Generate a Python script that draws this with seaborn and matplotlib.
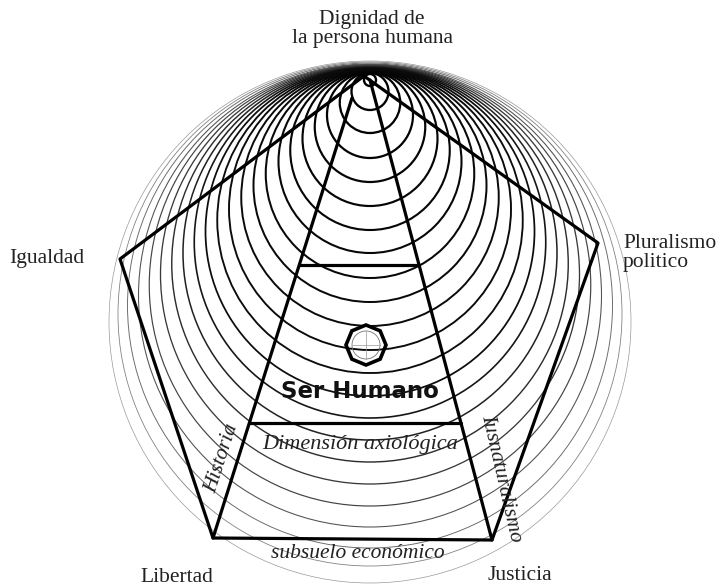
import matplotlib
matplotlib.use("Agg")
import matplotlib.pyplot as plt
from matplotlib.patches import Circle, RegularPolygon
import numpy as np
import pandas as pd
import seaborn as sns

# 同心圆（顶端几乎相切）: 顶部与底部的 y 值（像素坐标）
circle_tops = [74, 73, 72.5, 72, 71.5, 71, 70.5, 70, 69.5, 69, 68.5, 68, 67.5, 67,
               66.5, 66, 65.5, 65, 64.5, 64, 63, 62, 61]
circle_bottoms = [86, 110, 133, 158, 182, 206, 230, 253, 278, 302, 326, 350, 373,
                  396, 418, 440, 462, 484, 506, 527, 548, 566, 583]
center_x = 370

# 五边形顶点
pent_x = [364, 598, 492, 213, 120, 364]
pent_y = [76, 243, 540, 538, 259, 76]

# 梯形两条斜边 + 两条横线
left_line = ([352, 213], [98, 538])
right_line = ([370, 492], [80, 540])
bar_y = [265, 423]

labels = ["Dignidad de\nla persona humana", "Igualdad", "Pluralismo\npolitico",
          "Libertad", "Justicia"]
label_pos = [(372, 29, "center"), (9, 259, "left"), (623, 253, "left"),
             (140, 578, "left"), (487, 575, "left")]

sns.set_theme(style="white")
plt.rcParams['font.family'] = ['Liberation Serif', 'DejaVu Serif']

fig = plt.figure(figsize=(7.2, 5.88), dpi=100)
ax = fig.add_axes([0, 0, 1, 1])
ax.set_xlim(0, 720)
ax.set_ylim(588, 0)
ax.set_aspect("equal")
ax.axis("off")

n = len(circle_tops)
for i, (t, b) in enumerate(zip(circle_tops, circle_bottoms)):
    r = (b - t) / 2
    f = i / (n - 1)
    lw = np.interp(f, [0, 0.55, 0.85, 1], [1.7, 1.35, 0.8, 0.5])
    g = np.interp(f, [0, 0.6, 0.85, 1], [0.0, 0.05, 0.3, 0.6])
    ax.add_patch(Circle((center_x, t + r), r, fill=False, lw=lw,
                        ec=(g, g, g), zorder=1))

# 粗线
pent = pd.DataFrame({"x": pent_x, "y": pent_y})
sns.lineplot(data=pent, x="x", y="y", sort=False, estimator=None,
             color="black", lw=2.3, ax=ax, zorder=3)
for xs, ys in (left_line, right_line):
    sns.lineplot(x=xs, y=ys, sort=False, estimator=None, color="black",
                 lw=2.3, ax=ax, zorder=3)
for yb in bar_y:
    xl = np.interp(yb, left_line[1], left_line[0])
    xr = np.interp(yb, right_line[1], right_line[0])
    ax.plot([xl, xr], [yb, yb], color="black", lw=2.3, zorder=3)
ax.set_xlabel("")
ax.set_ylabel("")

# 中心的螺母符号
ax.add_patch(RegularPolygon((366, 345), numVertices=8, radius=20, fill=False,
                            lw=2.6, ec="black", zorder=4))
ax.add_patch(Circle((366, 345), 14, fill=False, lw=0.6, ec="0.45", zorder=4))
ax.plot([352, 380], [345, 345], color="0.6", lw=0.5, zorder=4)
ax.plot([366, 366], [331, 359], color="0.6", lw=0.5, zorder=4)

# 文字
for txt, (x, y, ha) in zip(labels, label_pos):
    ax.text(x, y, txt, ha=ha, va="center", fontsize=15.5, color="#222222",
            linespacing=1.05, zorder=5)

ax.text(360, 392, "Ser Humano", ha="center", va="center", fontsize=16.5,
        fontweight="heavy", family=["DejaVu Sans"], color="#111111", zorder=5)
ax.text(360, 445, "Dimensión axiológica", ha="center", va="center",
        fontsize=16, style="italic", color="#222222", zorder=5)
ax.text(358, 553, "subsuelo económico", ha="center", va="center",
        fontsize=15.5, style="italic", color="#222222", zorder=5)
ax.text(222, 458, "Historia", ha="center", va="center", fontsize=15.5,
        style="italic", rotation=72, color="#222222", zorder=5)
ax.text(501, 478, "Iusnaturalismo", ha="center", va="center", fontsize=15.5,
        style="italic", rotation=-77, color="#222222", zorder=5)

fig.savefig("out.png", dpi=100)
